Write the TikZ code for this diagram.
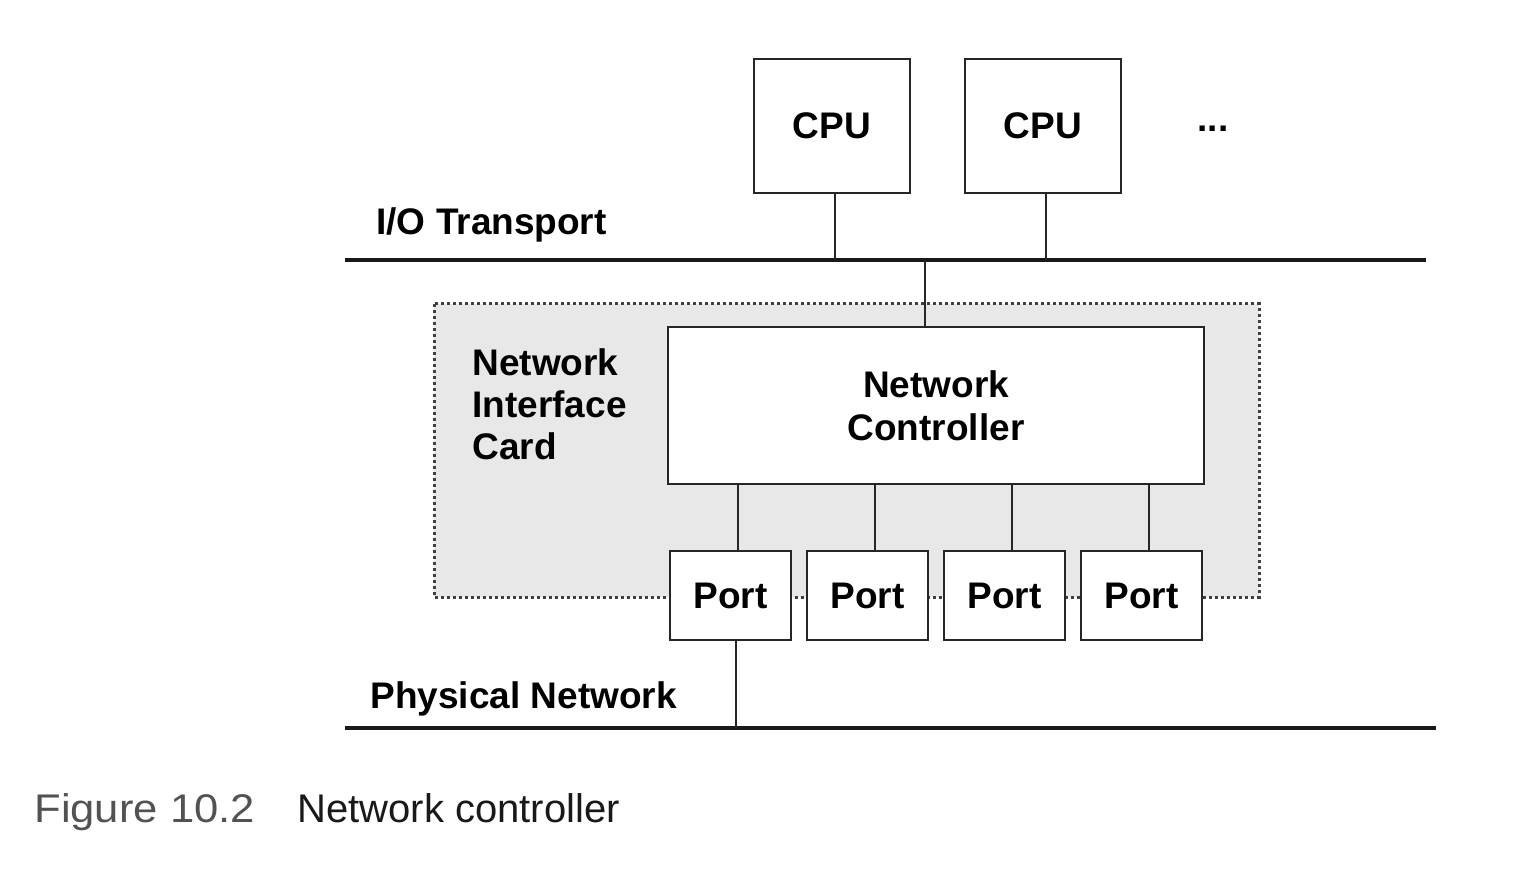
\documentclass[tikz,border=0pt]{standalone}
\usepackage{fontspec}
\setmainfont{Liberation Sans}
\begin{document}
\begin{tikzpicture}[x=0.5pt,y=-0.5pt,
  lbl/.style={font=\bfseries\fontsize{18.5}{21}\selectfont, inner sep=0pt},
  box/.style={draw=black!85, line width=1.2pt, fill=white, inner sep=0pt, outer sep=0pt, font=\bfseries\fontsize{18.5}{21.5}\selectfont, align=center},
  cpubox/.style={box, minimum width=78pt, minimum height=67pt},
  portbox/.style={box, minimum width=60.5pt, minimum height=44.5pt},
  bus/.style={line width=2pt, black!90},
  wire/.style={line width=1pt, black!85},
  nicarea/.style={fill=black!9, draw=black!75, line width=1.5pt, dash pattern=on 1.6pt off 1.4pt}
]
\useasboundingbox (0,0) rectangle (1536,876);
% buses
\coordinate (ioL) at (345,260);
\coordinate (ioR) at (1426,260);
\coordinate (phL) at (345,728);
\coordinate (phR) at (1436,728);
\coordinate (tap) at (925,260);
\draw[bus] (ioL) -- (ioR);
\draw[bus] (phL) -- (phR);
% NIC area
\draw[nicarea] (434,304) rectangle (1259,597);
% CPUs
\node[cpubox] (cpu1) at (832,126) {CPU};
\node[cpubox] (cpu2) at (1043,126) {CPU};
\node[lbl] (dots) at (1213,129) {...};
\draw[wire] ([xshift=1.5pt]cpu1.south) -- ([xshift=1.5pt]cpu1.south |- ioL);
\draw[wire] ([xshift=1.5pt]cpu2.south) -- ([xshift=1.5pt]cpu2.south |- ioL);
% labels
\node[lbl, anchor=base west] (iolbl) at (376,235) {I/O Transport};
\node[lbl, anchor=base west] (phlbl) at (370,708) {Physical Network};
\node[lbl, anchor=north west, align=left] (niclbl) at (472,348) {Network\\Interface\\Card};
% controller
\node[box, minimum width=268pt, minimum height=78.5pt] (nc) at (936,405.5) {Network\\Controller};
\draw[wire] (tap) -- (tap |- nc.north);
% ports
\node[portbox] (p1) at (730.5,595.5) {Port};
\node[portbox] (p2) at (867.5,595.5) {Port};
\node[portbox] (p3) at (1004.5,595.5) {Port};
\node[portbox] (p4) at (1141.5,595.5) {Port};
\foreach \p in {p1,p2,p3,p4}{
  \draw[wire] ([xshift=3.5pt]\p.north) -- ([xshift=3.5pt]\p.north |- nc.south);
}
\draw[wire] ([xshift=2.75pt]p1.south) -- ([xshift=2.75pt]p1.south |- phL);
% caption
\node[anchor=base west, inner sep=0pt, font=\fontsize{20}{24}\selectfont, text=black!68] (fig) at (34,822) {\scalebox{1.09}[1]{Figure 10.2}};
\node[anchor=base west, inner sep=0pt, font=\fontsize{20}{24}\selectfont, text=black!90] (cap) at (297,822) {Network controller};
\end{tikzpicture}
\end{document}
